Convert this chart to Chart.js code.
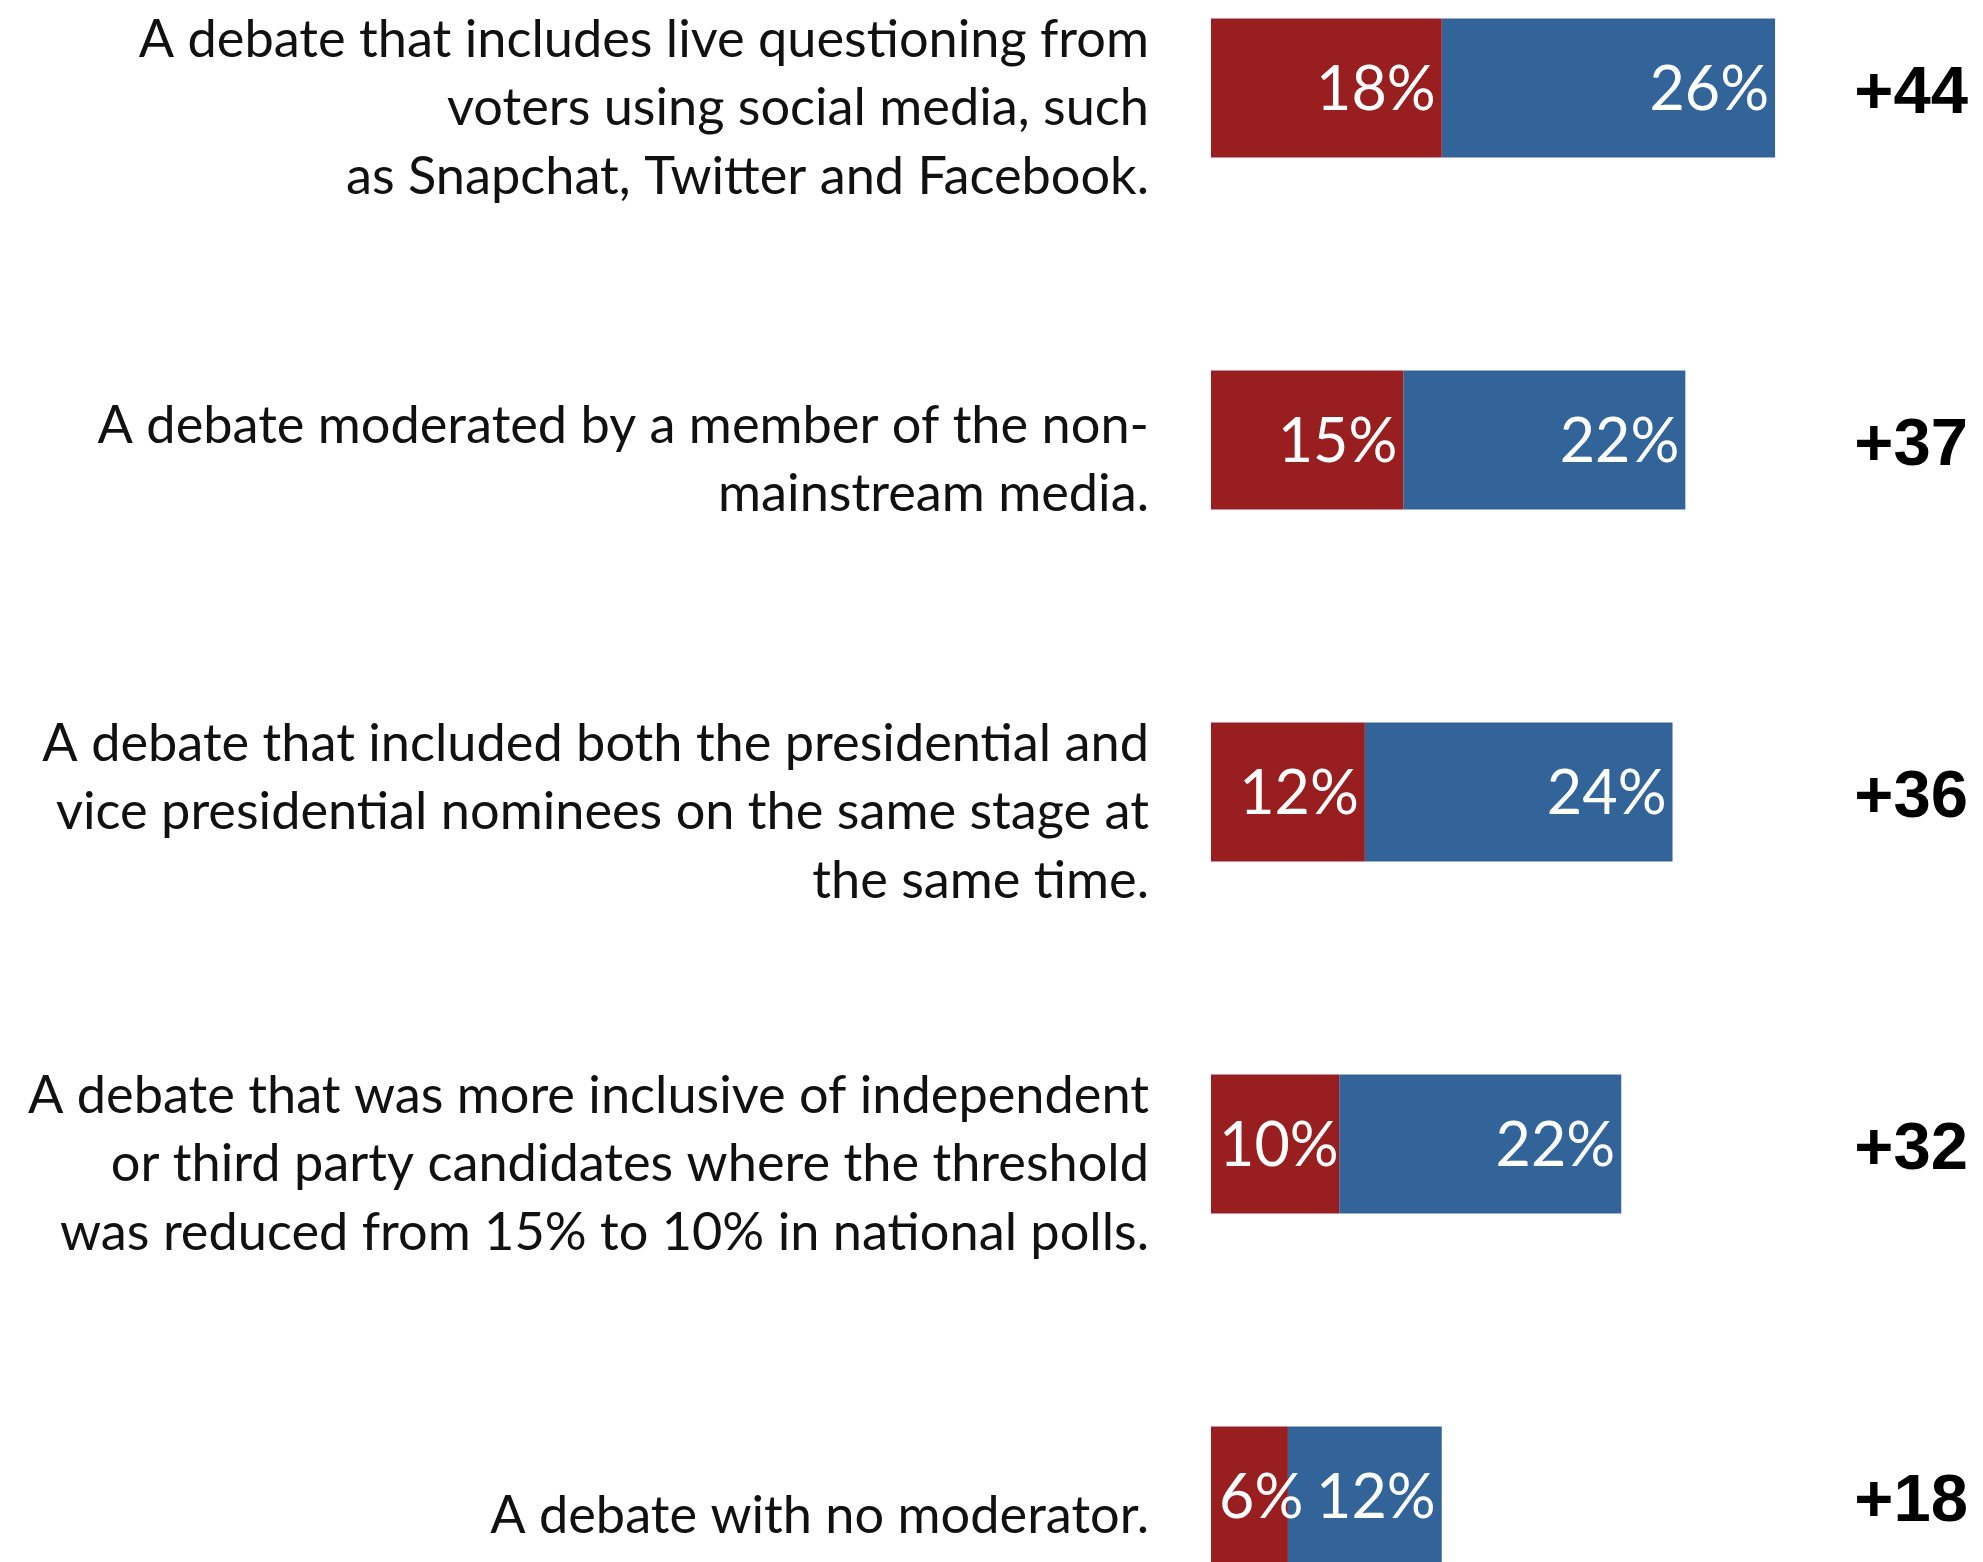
<!DOCTYPE html>
<html><head><meta charset="utf-8">
<script src="https://cdn.jsdelivr.net/npm/chart.js@4.4.1/dist/chart.umd.min.js"></script>
<style>
html,body{margin:0;padding:0;background:#fff;overflow:hidden;width:1983px;height:1562px;}
#wrap{position:absolute;left:0;top:-88px;width:1983px;height:1760px;}
</style></head><body>
<div id="wrap"><canvas id="c" width="1983" height="1760"></canvas></div>
<script>
const categories = [
  ["A debate that includes live questioning from", "voters using social media, such", "as Snapchat, Twitter and Facebook."],
  ["A debate moderated by a member of the non-", "mainstream media."],
  ["A debate that included both the presidential and", "vice presidential nominees on the same stage at", "the same time."],
  ["A debate that was more inclusive of independent", "or third party candidates where the threshold", "was reduced from 15% to 10% in national polls."],
  ["A debate with no moderator."]
];
const redValues = [18, 15, 12, 10, 6];
const blueValues = [26, 22, 24, 22, 12];
const axisMax = 50;

const RED = '#991E20';
const BLUE = '#326399';
const TEXT_FONT = 'Lato';

const labelPlugin = {
  id: 'customLabels',
  afterDraw(chart) {
    const ctx = chart.ctx;
    const area = chart.chartArea;
    ctx.save();
    // value labels inside segments
    const pctSize = 61;
    ctx.font = `400 ${pctSize}px ${TEXT_FONT}`;
    ctx.fillStyle = '#ffffff';
    ctx.textAlign = 'left';
    ctx.textBaseline = 'alphabetic';
    chart.data.datasets.forEach((ds, di) => {
      const meta = chart.getDatasetMeta(di);
      meta.data.forEach((bar, i) => {
        const p = bar.getProps(['x', 'base', 'y'], true);
        const start = Math.min(p.x, p.base), end = Math.max(p.x, p.base);
        const txt = ds.data[i] + '%';
        const w = ctx.measureText(txt).width;
        let left = end - 6 - w;
        if (left < start + 8) left = start + 8;
        ctx.fillText(txt, left, p.y + pctSize * 0.36);
      });
    });
    // category labels on the left
    const catSize = 52.3, lineH = 68.5;
    ctx.font = `400 ${catSize}px ${TEXT_FONT}`;
    ctx.fillStyle = '#111111';
    ctx.textAlign = 'right';
    const yScale = chart.scales.y;
    categories.forEach((lines, i) => {
      const cy = yScale.getPixelForValue(i);
      const n = lines.length;
      lines.forEach((ln, k) => {
        const by = cy + 37 + (k - (n - 1) / 2) * lineH;
        ctx.fillText(ln, area.left - 62, by);
      });
    });
    // net totals on the right
    const totSize = 67;
    ctx.font = `700 ${totSize}px "Liberation Sans", Arial, sans-serif`;
    ctx.fillStyle = '#000000';
    ctx.textAlign = 'right';
    categories.forEach((_, i) => {
      const cy = yScale.getPixelForValue(i);
      const total = redValues[i] + blueValues[i];
      ctx.fillText('+' + total, chart.width - 15, cy + totSize * 0.38);
    });
    ctx.restore();
  }
};

new Chart(document.getElementById('c'), {
  type: 'bar',
  data: {
    labels: categories.map(l => l.join(' ')),
    datasets: [
      { label: 'Red', data: redValues, backgroundColor: RED, borderWidth: 0 },
      { label: 'Blue', data: blueValues, backgroundColor: BLUE, borderWidth: 0 }
    ]
  },
  options: {
    indexAxis: 'y',
    responsive: false,
    animation: false,
    devicePixelRatio: 1,
    layout: { padding: { left: 1211, right: 1983 - 1211 - axisMax * 12.82, top: 0, bottom: 0 } },
    datasets: { bar: { categoryPercentage: 1, barPercentage: 0.395 } },
    scales: {
      x: { stacked: true, min: 0, max: axisMax, display: false },
      y: { stacked: true, display: false }
    },
    plugins: { legend: { display: false }, tooltip: { enabled: false } }
  },
  plugins: [labelPlugin]
});
</script>
</body></html>
